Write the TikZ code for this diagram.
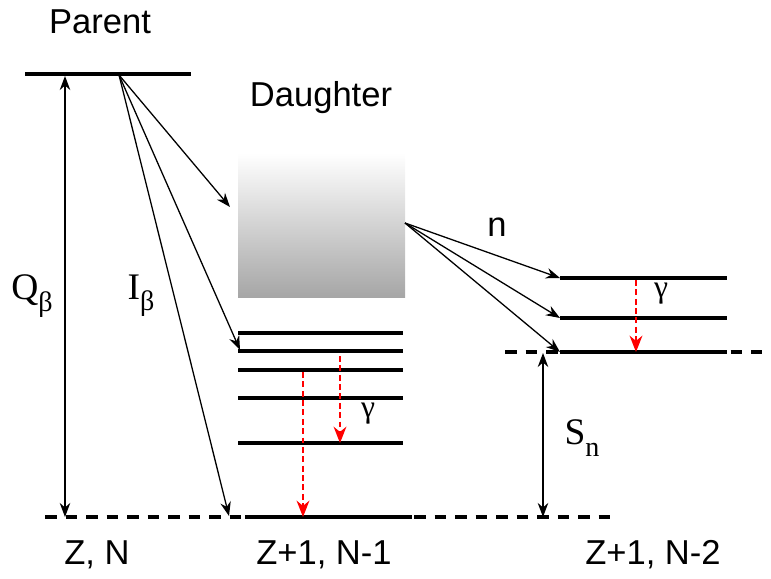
\documentclass[tikz,border=0pt]{standalone}
\usepackage{fontspec}
\setmainfont{Liberation Sans}
\newfontfamily\timesfam{Liberation Serif}
\usetikzlibrary{arrows.meta,positioning,calc}
\definecolor{gamred}{HTML}{FF0000}
\definecolor{boxgray}{HTML}{A6A6A6}
\newcommand{\lowsub}[1]{\raisebox{-0.3em}{\fontsize{24}{26}\selectfont #1}}

\begin{document}
\begin{tikzpicture}[x=0.03cm, y=-0.03cm, font=\fontsize{29.5}{34}\selectfont,
  lvl/.style={line width=2.6pt},
  sep/.style={line width=2.6pt, dash pattern=on 10pt off 7.5pt},
  trans/.style={-{Stealth[length=12pt,width=9pt]}, line width=1.1pt},
  gam/.style={-{Stealth[length=14pt,width=11pt]}, gamred, line width=1.2pt, dash pattern=on 5pt off 3pt},
  sym/.style={font=\fontsize{32}{36}\selectfont\timesfam},
  gsym/.style={font=\fontsize{27}{30}\selectfont\timesfam}]
  \useasboundingbox (0,0) rectangle (771,579);

  % labels
  \node (parent) at (100,22) {Parent};
  \node (daughter) at (321,98) {Daughter};
  \node (zn) at (97,555) {Z, N};
  \node (zn1) at (324,555) {Z+1, N-1};
  \node (zn2) at (653,555) {Z+1, N-2};

  % parent level
  \coordinate (pL) at (25,74); \coordinate (pR) at (191,74);
  \coordinate (pO) at (119,75);
  \draw[lvl] (pL) -- (pR);

  % continuum box
  \shade[top color=white, bottom color=boxgray] (238,153) rectangle (405,297);
  \coordinate (boxin) at (230,207);
  \coordinate (boxout) at (405,223);

  % ground line (Z,N) and (Z+1,N-1)
  \draw[sep] (45,517) -- (610,517);
  \draw[lvl] (245,517) -- (412,517);
  \coordinate (qbot) at (65,517); \coordinate (qtop) at (65,76);
  \coordinate (gs) at (229,516);

  % daughter levels
  \foreach \yy/\nm in {333/a,351/b,370/c,398/d,443/e}
    \draw[lvl] (238,\yy) coordinate (d\nm) -- (403,\yy);
  \coordinate (db1) at (240,350);

  % N-2 levels
  \draw[sep] (505,352) -- (762,352);
  \draw[lvl] (560,352) coordinate (ra) -- (727,352);
  \draw[lvl] (560,318) coordinate (rb) -- (727,318);
  \draw[lvl] (560,278) coordinate (rc) -- (727,278);
  \coordinate (snbot) at (543,517); \coordinate (sntop) at (543,353);

  % beta feeding
  \draw[trans] (pO) -- (boxin);
  \draw[trans] (pO) -- (db1);
  \draw[trans] (pO) -- (gs);
  \draw[{Stealth[length=12pt,width=9pt]}-{Stealth[length=12pt,width=9pt]}, line width=1.1pt] (qbot) -- (qtop);
  \node[sym] (qb) at (32,296) {Q\lowsub{β}};
  \node[sym] (ib) at (141,296) {I\lowsub{β}};

  % neutron emission
  \draw[trans] (boxout) -- (rc);
  \draw[trans] (boxout) -- (rb);
  \draw[trans] (boxout) -- (ra);
  \node (nn) at (497,227) {n};
  \draw[{Stealth[length=12pt,width=9pt]}-{Stealth[length=12pt,width=9pt]}, line width=1.1pt] (snbot) -- (sntop);
  \node[sym] (sn) at (582,438) {S\lowsub{n}};

  % gammas
  \draw[gam] (340,356) -- (340,443);
  \draw[gam] (303,372) -- (303,517);
  \draw[gam] (636,280) -- (636,352);
  \node[gsym] (g1) at (368,414) {γ};
  \node[gsym] (g2) at (661,294) {γ};
\end{tikzpicture}
\end{document}
